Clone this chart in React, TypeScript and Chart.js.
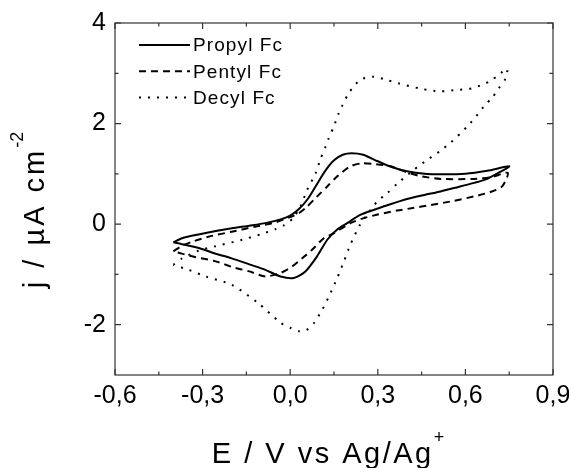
import React, { useEffect, useRef } from "react";
import { Chart, registerables } from "chart.js";

Chart.register(...registerables);

// ---- Data ----
const seriesLabels = ["Propyl Fc", "Pentyl Fc", "Decyl Fc"];

const propylE = [
  -0.40, -0.37, -0.31, -0.25, -0.20, -0.14, -0.085, -0.03, 0.00, 0.03, 0.06, 0.09, 0.12, 0.15, 0.18, 0.21, 0.25, 0.30, 0.35, 0.40, 0.46, 0.52, 0.60, 0.675, 0.75,
  0.71, 0.67, 0.63, 0.57, 0.515, 0.46, 0.40, 0.34, 0.29, 0.24, 0.195, 0.16, 0.127, 0.092, 0.052, 0.012, -0.033, -0.085, -0.14, -0.20, -0.26, -0.31, -0.36, -0.40,
];
const propylJ = [
  -0.36, -0.28, -0.20, -0.13, -0.08, -0.03, 0.02, 0.10, 0.17, 0.30, 0.50, 0.78, 1.06, 1.27, 1.38, 1.41, 1.38, 1.25, 1.13, 1.05, 1.00, 0.99, 1.00, 1.06, 1.15,
  1.01, 0.89, 0.82, 0.73, 0.65, 0.58, 0.50, 0.39, 0.29, 0.185, 0.02, -0.11, -0.31, -0.64, -0.94, -1.07, -1.04, -0.91, -0.80, -0.68, -0.58, -0.48, -0.41, -0.36,
];

const pentylE = [
  -0.40, -0.37, -0.336, -0.28, -0.20, -0.12, -0.06, 0.00, 0.03, 0.058, 0.092, 0.127, 0.161, 0.206, 0.245, 0.28, 0.343, 0.40, 0.45, 0.515, 0.629, 0.686, 0.745,
  0.726, 0.686, 0.629, 0.549, 0.48, 0.42, 0.366, 0.30, 0.252, 0.206, 0.15, 0.115, 0.075, 0.041, 0.007, -0.033, -0.085, -0.14, -0.20, -0.255, -0.336, -0.40,
];
const pentylJ = [
  -0.54, -0.43, -0.35, -0.25, -0.15, -0.05, 0.02, 0.14, 0.22, 0.35, 0.55, 0.75, 0.95, 1.15, 1.21, 1.20, 1.15, 1.03, 0.95, 0.90, 0.90, 0.93, 1.02,
  0.75, 0.64, 0.55, 0.45, 0.38, 0.32, 0.27, 0.19, 0.12, 0.02, -0.18, -0.28, -0.51, -0.68, -0.84, -0.97, -1.04, -0.94, -0.85, -0.74, -0.64, -0.54,
];

const decylE = [
  -0.40, -0.37, -0.31, -0.256, -0.164, -0.10, -0.05, -0.02, 0.01, 0.035, 0.058, 0.087, 0.104, 0.121, 0.132, 0.15, 0.166, 0.20, 0.24, 0.285, 0.33, 0.37, 0.45, 0.514, 0.572, 0.623, 0.652, 0.686, 0.714, 0.743,
  0.737, 0.714, 0.692, 0.663, 0.643, 0.606, 0.551, 0.51, 0.47, 0.423, 0.366, 0.333, 0.298, 0.265, 0.24, 0.206, 0.184, 0.161, 0.138, 0.11, 0.081, 0.055, 0.03, 0.00, -0.033, -0.11, -0.199, -0.29, -0.347, -0.40,
];
const decylJ = [
  -0.81, -0.68, -0.52, -0.44, -0.31, -0.20, -0.10, -0.02, 0.12, 0.35, 0.68, 1.01, 1.30, 1.54, 1.71, 1.95, 2.20, 2.60, 2.87, 2.93, 2.87, 2.80, 2.69, 2.64, 2.67, 2.70, 2.76, 2.85, 2.97, 3.09,
  2.89, 2.70, 2.52, 2.34, 2.19, 1.94, 1.63, 1.44, 1.28, 1.08, 0.80, 0.62, 0.45, 0.20, 0.00, -0.41, -0.74, -1.07, -1.37, -1.70, -1.97, -2.11, -2.13, -2.06, -1.96, -1.57, -1.21, -1.04, -0.91, -0.81,
];

const xMajorTicks = [-0.6, -0.3, 0.0, 0.3, 0.6, 0.9];
const xMinorTicks = [-0.45, -0.15, 0.15, 0.45, 0.75];
const yMajorTicks = [-2, 0, 2, 4];
const yMinorTicks = [-1, 1, 3];
const xTickLabels = ["-0,6", "-0,3", "0,0", "0,3", "0,6", "0,9"];
const yTickLabels = ["-2", "0", "2", "4"];

const xTitleMain = "E / V vs Ag/Ag";
const xTitleSup = "+";
const yTitleMain = "j / \u00B5A cm";
const yTitleSup = "-2";

const FONT = "'Liberation Sans', Arial, Helvetica, sans-serif";

const zip = (xs: number[], ys: number[]) => xs.map((x, i) => ({ x, y: ys[i] }));

const decorPlugin = {
  id: "decor",
  afterDraw(chart: any) {
    const { ctx, chartArea, scales } = chart;
    const { left, right, top, bottom } = chartArea;
    const xs = scales.x;
    const ys = scales.y;
    ctx.save();
    // frame
    ctx.strokeStyle = "#333";
    ctx.lineWidth = 1.2;
    ctx.strokeRect(left, top, right - left, bottom - top);
    // inward ticks
    const major = 6;
    const minor = 3.5;
    ctx.beginPath();
    const vt = (v: number, len: number) => {
      const px = xs.getPixelForValue(v);
      ctx.moveTo(px, bottom);
      ctx.lineTo(px, bottom - len);
      ctx.moveTo(px, top);
      ctx.lineTo(px, top + len);
    };
    const ht = (v: number, len: number) => {
      const py = ys.getPixelForValue(v);
      ctx.moveTo(left, py);
      ctx.lineTo(left + len, py);
      ctx.moveTo(right, py);
      ctx.lineTo(right - len, py);
    };
    xMajorTicks.forEach((v) => vt(v, major));
    xMinorTicks.forEach((v) => vt(v, minor));
    yMajorTicks.forEach((v) => ht(v, major));
    yMinorTicks.forEach((v) => ht(v, minor));
    ctx.stroke();

    // legend
    const legX0 = 139;
    const legX1 = 190;
    const legY0 = 45;
    const legDy = 26.3;
    ctx.font = `19px ${FONT}`;
    (ctx as any).letterSpacing = "1.1px";
    ctx.textBaseline = "middle";
    ctx.textAlign = "left";
    ctx.fillStyle = "#000";
    chart.data.datasets.forEach((ds: any, i: number) => {
      const y = legY0 + i * legDy;
      ctx.save();
      ctx.strokeStyle = ds.borderColor;
      ctx.lineWidth = ds.borderWidth;
      ctx.setLineDash(ds.borderDash || []);
      ctx.beginPath();
      ctx.moveTo(legX0, y);
      ctx.lineTo(legX1, y);
      ctx.stroke();
      ctx.restore();
      ctx.fillText(ds.label, 193, y + 1);
    });

    // axis titles with superscripts
    const titleFont = `29px ${FONT}`;
    const supFont = `18px ${FONT}`;
    ctx.textBaseline = "alphabetic";
    ctx.font = titleFont;
    (ctx as any).letterSpacing = "2.5px";
    const xw = ctx.measureText(xTitleMain).width;
    ctx.font = supFont;
    (ctx as any).letterSpacing = "0px";
    const xsw = ctx.measureText(xTitleSup).width;
    const xStart = 328 - (xw + xsw) / 2;
    ctx.font = titleFont;
    (ctx as any).letterSpacing = "2.5px";
    ctx.fillText(xTitleMain, xStart, 463);
    ctx.font = supFont;
    (ctx as any).letterSpacing = "0px";
    ctx.fillText(xTitleSup, xStart + xw, 443);

    ctx.save();
    ctx.translate(44, 210);
    ctx.rotate(-Math.PI / 2);
    ctx.font = titleFont;
    (ctx as any).letterSpacing = "3px";
    const yw = ctx.measureText(yTitleMain).width;
    ctx.font = supFont;
    (ctx as any).letterSpacing = "0px";
    const ysw = ctx.measureText(yTitleSup).width;
    const yStart = -(yw + ysw) / 2;
    ctx.font = titleFont;
    (ctx as any).letterSpacing = "3px";
    ctx.fillText(yTitleMain, yStart, 0);
    ctx.font = supFont;
    (ctx as any).letterSpacing = "0px";
    ctx.fillText(yTitleSup, yStart + yw, -21);
    ctx.restore();

    ctx.restore();
  },
};

export default function App() {
  const canvasRef = useRef<HTMLCanvasElement | null>(null);

  useEffect(() => {
    if (!canvasRef.current) return;
    const common = {
      borderColor: "#000",
      borderWidth: 2,
      showLine: true,
      pointRadius: 0,
      pointHoverRadius: 0,
      tension: 0.25,
      fill: false,
    };
    const chart = new Chart(canvasRef.current, {
      type: "scatter",
      data: {
        datasets: [
          { ...common, label: seriesLabels[0], data: zip(propylE, propylJ), borderDash: [] },
          { ...common, label: seriesLabels[1], data: zip(pentylE, pentylJ), borderDash: [7, 5] },
          { ...common, label: seriesLabels[2], data: zip(decylE, decylJ), borderDash: [2, 7] },
        ],
      },
      options: {
        animation: false,
        responsive: false,
        devicePixelRatio: 1,
        layout: { padding: { left: 0, top: 23, right: 16, bottom: 0 } },
        plugins: {
          legend: { display: false },
          tooltip: { enabled: false },
          title: { display: false },
        },
        scales: {
          x: {
            type: "linear",
            min: -0.6,
            max: 0.9,
            afterBuildTicks: (s: any) => {
              s.ticks = xMajorTicks.map((v) => ({ value: v }));
            },
            afterFit: (s: any) => {
              s.height = 93;
              s.paddingLeft = 0;
              s.paddingRight = 0;
            },
            grid: { display: false, drawTicks: false },
            border: { display: false },
            ticks: {
              autoSkip: false,
              maxRotation: 0,
              padding: 6,
              color: "#000",
              font: { size: 25, family: FONT },
              callback: (v: any) => {
                const i = xMajorTicks.findIndex((t) => Math.abs(t - Number(v)) < 1e-9);
                return i >= 0 ? xTickLabels[i] : "";
              },
            },
          },
          y: {
            type: "linear",
            min: -3,
            max: 4,
            afterBuildTicks: (s: any) => {
              s.ticks = yMajorTicks.map((v) => ({ value: v }));
            },
            afterFit: (s: any) => {
              s.width = 115;
              s.paddingTop = 0;
              s.paddingBottom = 0;
            },
            grid: { display: false, drawTicks: false },
            border: { display: false },
            ticks: {
              autoSkip: false,
              padding: 9,
              color: "#000",
              font: { size: 25, family: FONT },
              callback: (v: any) => {
                const i = yMajorTicks.findIndex((t) => Math.abs(t - Number(v)) < 1e-9);
                return i >= 0 ? yTickLabels[i] : "";
              },
            },
          },
        },
      },
      plugins: [decorPlugin],
    } as any);
    return () => chart.destroy();
  }, []);

  return (
    <div style={{ position: "absolute", left: 0, top: 0, width: 569, height: 468, background: "#fff" }}>
      <canvas ref={canvasRef} width={569} height={468} style={{ display: "block" }} />
    </div>
  );
}
